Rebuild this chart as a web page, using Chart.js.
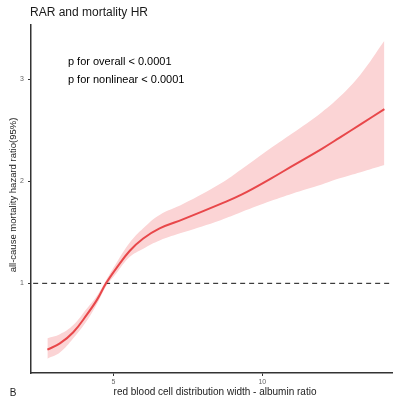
<!DOCTYPE html>
<html>
<head>
<meta charset="utf-8">
<script src="https://cdn.jsdelivr.net/npm/chart.js@4/dist/chart.umd.min.js"></script>
<style>
  html, body { margin: 0; padding: 0; background: #fff; }
  #wrap { width: 393px; height: 402px; }
</style>
</head>
<body>
<div id="wrap"><canvas id="chartRar" width="393" height="402"></canvas></div>
<script>
// RAR (red blood cell distribution width / albumin) vs HR, restricted cubic spline
const rarValues = [2.78, 3.2, 3.65, 4.1, 4.45, 4.75, 5.1, 5.55, 6.0, 6.55, 7.35, 8.6, 9.3, 10.3, 11.0, 12.0, 12.6, 13.3, 14.1];
const hrValues  = [0.35, 0.41, 0.52, 0.69, 0.84, 1.00, 1.15, 1.32, 1.44, 1.54, 1.63, 1.78, 1.87, 2.03, 2.15, 2.32, 2.43, 2.56, 2.71];
const hrUpper   = [0.46, 0.50, 0.59, 0.75, 0.88, 1.03, 1.20, 1.40, 1.54, 1.67, 1.78, 1.98, 2.12, 2.33, 2.47, 2.68, 2.83, 3.05, 3.38];
const hrLower   = [0.26, 0.32, 0.46, 0.63, 0.80, 0.97, 1.10, 1.26, 1.34, 1.42, 1.50, 1.62, 1.70, 1.81, 1.88, 1.97, 2.03, 2.09, 2.16];

const xTicks = [5, 10];
const yTicks = [1, 2, 3];
const refHR = 1;

const FONT = "'Liberation Sans', Arial, sans-serif";

function pts(ys) {
  return rarValues.map(function(x, i) { return { x: x, y: ys[i] }; });
}

// Textos: título, eixos, anotações
const textPlugin = {
  id: 'texts',
  afterDraw: function(chart) {
    const ctx = chart.ctx;
    const xs = chart.scales.x;
    const ys = chart.scales.y;
    ctx.save();
    ctx.fillStyle = '#1a1a1a';
    ctx.textBaseline = 'middle';

    ctx.font = '12px ' + FONT;
    ctx.textAlign = 'left';
    ctx.fillText('RAR and mortality HR', 30, 13);

    ctx.font = '11px ' + FONT;
    ctx.fillStyle = '#000';
    ctx.fillText('p for overall < 0.0001', xs.getPixelForValue(3.47), ys.getPixelForValue(3.17));
    ctx.fillText('p for nonlinear < 0.0001', xs.getPixelForValue(3.47), ys.getPixelForValue(3.0));

    ctx.fillStyle = '#222';
    ctx.font = '10px ' + FONT;
    ctx.textAlign = 'center';
    ctx.fillText('red blood cell distribution width - albumin ratio', 215, 392);
    ctx.fillText('B', 13, 393);

    ctx.save();
    ctx.translate(13, 195);
    ctx.rotate(-Math.PI / 2);
    ctx.font = '9.5px ' + FONT;
    ctx.fillText('all-cause mortality hazard ratio(95%)', 0, 0);
    ctx.restore();

    ctx.restore();
  }
};

new Chart(document.getElementById('chartRar'), {
  type: 'line',
  data: {
    datasets: [
      {
        label: 'HR',
        data: pts(hrValues),
        borderColor: '#e8474a',
        borderWidth: 2,
        pointRadius: 0,
        tension: 0.4,
        fill: false,
        order: 0
      },
      {
        label: 'ref',
        data: [{ x: 2.0, y: refHR }, { x: 14.3, y: refHR }],
        borderColor: '#111',
        borderWidth: 1,
        borderDash: [5, 4],
        pointRadius: 0,
        fill: false,
        order: 1
      },
      {
        label: 'upper',
        data: pts(hrUpper),
        borderWidth: 0,
        borderColor: 'rgba(0,0,0,0)',
        backgroundColor: '#fbd4d5',
        pointRadius: 0,
        tension: 0.4,
        fill: '+1',
        order: 2
      },
      {
        label: 'lower',
        data: pts(hrLower),
        borderWidth: 0,
        borderColor: 'rgba(0,0,0,0)',
        pointRadius: 0,
        tension: 0.4,
        fill: false,
        order: 3
      }
    ]
  },
  options: {
    responsive: false,
    devicePixelRatio: 1,
    animation: false,
    layout: { padding: { top: 25, right: 0, left: 0, bottom: 0 } },
    plugins: {
      legend: { display: false },
      tooltip: { enabled: false },
      title: { display: false }
    },
    scales: {
      x: {
        type: 'linear',
        min: 2.23,
        max: 14.39,
        afterBuildTicks: function(s) { s.ticks = xTicks.map(function(v) { return { value: v }; }); },
        afterFit: function(s) { s.height = 29; },
        ticks: { color: '#666', font: { size: 7, family: FONT }, padding: 2, maxRotation: 0 },
        grid: { drawOnChartArea: false, drawTicks: true, tickLength: 3, color: '#333' },
        border: { display: true, color: '#333', width: 1.5 }
      },
      y: {
        type: 'linear',
        min: 0.12,
        max: 3.535,
        afterBuildTicks: function(s) { s.ticks = yTicks.map(function(v) { return { value: v }; }); },
        afterFit: function(s) { s.width = 31; },
        ticks: { color: '#666', font: { size: 7, family: FONT }, padding: 4 },
        grid: { drawOnChartArea: false, drawTicks: true, tickLength: 3, color: '#333' },
        border: { display: true, color: '#333', width: 1.5 }
      }
    }
  },
  plugins: [textPlugin]
});
</script>
</body>
</html>
